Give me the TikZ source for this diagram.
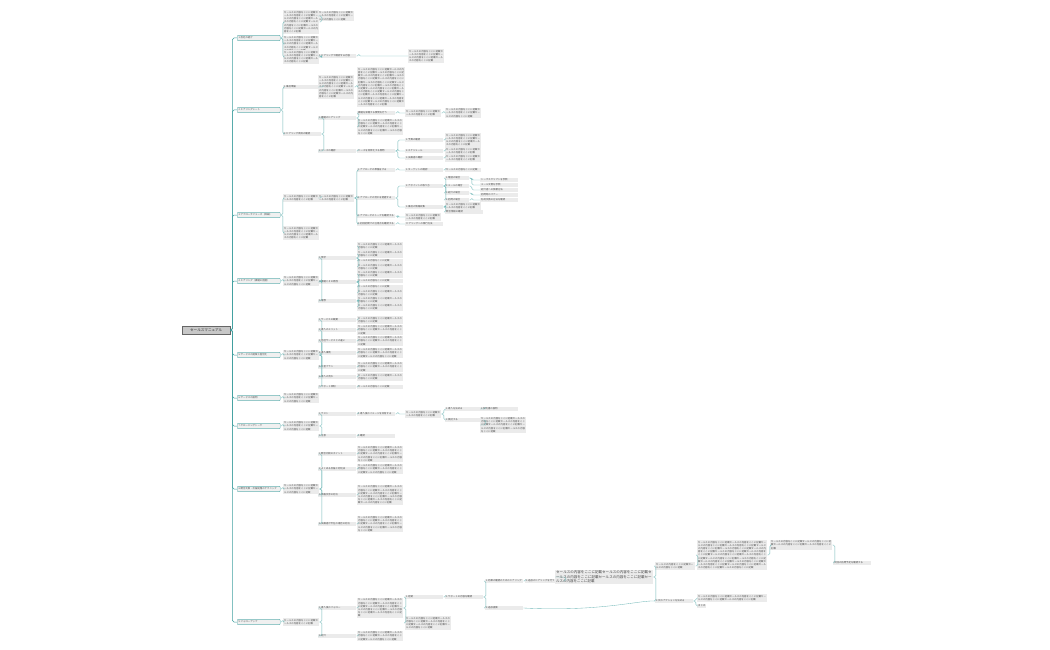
\documentclass[tikz,border=0pt]{standalone}
\usepackage{fontspec}
\setmainfont{Noto Sans CJK JP}
\XeTeXlinebreaklocale "ja"
\XeTeXlinebreakskip=0pt plus 0.5pt
\begin{document}
\newcommand\Tx[1]{\foreach\i in{1,...,#1}{セールスの内容をここに記載}}
\begin{tikzpicture}[x=1pt,y=-1pt,
  box/.style={fill=black!8,inner xsep=1pt,inner ysep=0.8pt,anchor=west,align=left,font=\fontsize{2.4}{3.2}\selectfont,text=black!70},
  l1/.style={box,draw=teal!60,line width=0.4pt,rounded corners=0.8pt,inner sep=1.5pt,fill=black!6,text width=40pt},
  link/.style={draw=teal!55,line width=0.35pt,rounded corners=1.5pt}]
\useasboundingbox (0,0) rectangle (1050,650);
\newcommand\nd[5]{\node[box,text width=#4] (#1) at (#2,#3) {\Tx{#5}};}
\newcommand\nl[4]{\node[box,text width=36pt] (#1) at (#2,#3) {#4};}
\newcommand\cn[2]{\draw[link] (#1.east) -- ++(2.5,0) |- (#2.west);}
% root
\node[box,draw=black!60,fill=black!22,font=\fontsize{3.6}{4}\selectfont,text=black!80,minimum width=48,minimum height=8,inner sep=1.5pt] (r) at (182,330) {セールスマニュアル};
% level 1
\node[l1] (a1) at (237,38) {1.自社の紹介};
\node[l1] (a2) at (237,110) {2.ヒアリングシート};
\node[l1] (a3) at (237,215) {3.アプローチフェーズ（詳細）};
\node[l1] (a4) at (237,281) {4.ヒアリング（課題の把握）};
\node[l1] (a5) at (237,355) {5.サービスの提案と差別化};
\node[l1] (a6) at (237,398) {6.サービスの説明};
\node[l1] (a7) at (237,426) {7.クロージングトーク};
\node[l1] (a8) at (237,489) {8.競合比較・反論処理のテクニック};
\node[l1] (a9) at (237,622) {9.フォローアップ};
\foreach \a in {a1,a2,a3,a4,a5,a6,a7,a8,a9}{\draw[link,draw=teal!75,line width=0.5pt] (r.east) -- ++(2,0) |- (\a.west);}
% a1
\nd{b1}{283}{22}{34pt}{7}
\nd{b2}{283}{44}{34pt}{5}
\nd{b3}{283}{57}{34pt}{4}
\nd{c1}{318}{16}{34pt}{3}
\nl{c2}{318}{56}{1.ヒアリングで確認する内容}
\nd{c3}{408}{56}{34pt}{4}
\cn{a1}{b1}\cn{a1}{b2}\cn{a1}{b3}\cn{b1}{c1}\cn{b3}{c2}\cn{c2}{c3}
% a2
\nl{b4}{283}{87}{1.事前準備}
\nl{b5}{283}{134}{2.ヒアリング項目の確認}
\nd{c4}{318}{87}{34pt}{7}
\nd{c5}{357}{87}{46pt}{17}
\nl{c6}{318}{118}{1.課題のヒアリング}
\nl{c7}{318}{151}{2.ニーズの確認}
\nl{d1}{357}{113}{課題を深堀する質問を行う}
\nd{e1}{405}{113}{34pt}{2}
\nd{f1}{445}{113}{34pt}{3}
\nd{d2}{357}{127}{44pt}{6}
\nl{d3}{357}{151}{ニーズを具体化する質問}
\nl{e2}{405}{140}{1.予算の確認}
\nd{f2}{445}{140}{34pt}{4}
\nl{e3}{405}{151}{2.スケジュール}
\nd{f3}{445}{151}{34pt}{2}
\nl{e4}{405}{158}{3.決裁者の確認}
\nd{f4}{445}{158}{34pt}{2}
\cn{a2}{b4}\cn{a2}{b5}\cn{b4}{c4}\cn{c4}{c5}\cn{b5}{c6}\cn{b5}{c7}\cn{c6}{d1}\cn{d1}{e1}\cn{e1}{f1}\cn{c6}{d2}
\cn{c7}{d3}\cn{d3}{e2}\cn{d3}{e3}\cn{d3}{e4}\cn{e2}{f2}\cn{e3}{f3}\cn{e4}{f4}
% a3
\nd{b6}{283}{198}{34pt}{2}
\nd{b7}{283}{233}{34pt}{4}
\nd{c8}{318}{198}{34pt}{2}
\nl{d4}{357}{170}{1.アプローチの準備をする}
\nl{d5}{357}{198}{2.アプローチの流れを把握する}
\nl{d6}{357}{216}{3.アプローチのトークを確認する}
\nl{d7}{357}{224}{4.初回訪問での注意点を確認する}
\nl{e5}{405}{170}{1.ターゲットの確認}
\nd{f5}{445}{170}{34pt}{1}
\nl{e7}{405}{186}{2.アポイントの取り方}
\node[box,text width=22pt] (f6) at (445,178) {1.電話の場合};
\node[box,text width=22pt] (f7) at (445,186) {2.メールの場合};
\node[box,text width=22pt] (f8) at (445,193) {3.紹介の場合};
\node[box,text width=22pt] (f9) at (445,200) {4.訪問の場合};
\nl{g1}{480}{180}{トークスクリプトを参照}
\nl{g2}{480}{185}{メール文例を参照}
\nl{g3}{480}{190}{紹介者への依頼方法}
\nl{g4}{480}{195}{訪問時のマナー}
\nl{g5}{480}{200}{名刺交換の方法を確認}
\nl{e8}{405}{207}{3.事前の情報収集}
\nd{f10}{445}{206}{34pt}{2}
\nl{f11}{445}{212}{競合情報の確認}
\nd{e9}{405}{217}{34pt}{2}
\nl{e10}{405}{224}{ヒアリングへの移行方法}
\cn{a3}{b6}\cn{a3}{b7}\cn{b6}{c8}\cn{c8}{d4}\cn{c8}{d5}\cn{c8}{d6}\cn{c8}{d7}\cn{d4}{e5}\cn{e5}{f5}
\cn{d5}{e7}\cn{d5}{e8}\cn{e7}{f6}\cn{e7}{f7}\cn{e7}{f8}\cn{e7}{f9}\cn{f6}{g1}\cn{f6}{g2}\cn{f7}{g3}\cn{f8}{g4}\cn{f9}{g5}
\cn{e8}{f10}\cn{e8}{f11}\cn{d6}{e9}\cn{d7}{e10}
% a4
\nd{b8}{283}{281}{34pt}{3}
\nl{c9}{318}{258}{1.現状}
\nl{c10}{318}{282}{2.課題とその原因}
\nl{c11}{318}{301}{3.理想}
\cn{a4}{b8}\cn{b8}{c9}\cn{b8}{c10}\cn{b8}{c11}
\foreach \n/\y/\k in {d8/246/2,d9/254/2,d10/261/1,d11/267/2}{\node[box,text width=44pt] (\n) at (357,\y) {\Tx{\k}}; \cn{c9}{\n}}
\foreach \n/\y/\k in {d12/274/2,d13/281/1,d14/287/1,d15/293/2}{\node[box,text width=44pt] (\n) at (357,\y) {\Tx{\k}}; \cn{c10}{\n}}
\foreach \n/\y/\k in {d16/300/2,d17/307/2}{\node[box,text width=44pt] (\n) at (357,\y) {\Tx{\k}}; \cn{c11}{\n}}
% a5
\nd{b9}{283}{355}{34pt}{3}
\cn{a5}{b9}
\foreach \c/\d/\y/\k/\t in {c12/d18/320/2/1.サービスの概要,c13/d19/330/3/2.導入のメリット,c14/d20/341/3/3.他社サービスとの違い,c15/d21/353/4/4.導入事例,c16/d22/367/3/5.料金プラン,c17/d23/377/2/6.導入の流れ,c18/d24/387/1/7.サポート体制}{\node[box,text width=36pt] (\c) at (318,\y) {\t}; \node[box,text width=44pt] (\d) at (357,\y) {\Tx{\k}}; \cn{b9}{\c}\cn{\c}{\d}}
% a6
\nd{b10}{283}{398}{34pt}{3}
\cn{a6}{b10}
% a7
\nd{b11}{283}{426}{34pt}{3}
\nl{c19}{318}{414}{1.テスト}
\nl{d25}{357}{414}{1.導入後のイメージを共有する}
\nd{e11}{405}{414}{34pt}{2}
\nl{f12}{445}{409}{1.導入を決める}
\nl{g6}{480}{409}{2.契約書の説明}
\nl{f13}{445}{420}{2.検討する}
\nd{g7}{480}{425}{44pt}{6}
\nl{c20}{318}{436}{2.注意}
\nl{d26}{357}{436}{3.確認}
\cn{a7}{b11}\cn{b11}{c19}\cn{b11}{c20}\cn{c19}{d25}\cn{d25}{e11}\cn{e11}{f12}\cn{e11}{f13}\cn{f12}{g6}\cn{f13}{g7}\cn{c20}{d26}
% a8
\nd{b12}{283}{489}{34pt}{3}
\cn{a8}{b12}
\foreach \c/\d/\y/\k/\t in {c21/d27/454/6/1.競合比較のポイント,c22/d28/469/4/2.よくある反論と対処法,c23/d29/495/8/3.価格交渉の対応,c24/d30/524/6/4.決裁者が不在の場合の対応}{\node[box,text width=36pt] (\c) at (318,\y) {\t}; \node[box,text width=44pt] (\d) at (357,\y) {\Tx{\k}}; \cn{b12}{\c}\cn{\c}{\d}}
% a9
\nd{b13}{283}{622}{34pt}{2}
\nl{c25}{318}{608}{1.導入後のフォロー}
\nd{d31}{357}{608}{44pt}{7}
\nl{e12}{405}{597}{1.定期}
\nd{e13}{405}{623}{44pt}{5}
\nl{f14}{445}{597}{1.サポートの内容を確認}
\nl{g8}{485}{581}{1.効果の確認のためのヒアリング}
\nl{g9}{485}{608}{2.追加提案}
\nl{h1}{525}{581}{1.追加のヒアリングを行う}
\node[box,text width=96pt,font=\fontsize{3.5}{4.6}\selectfont,text=black!75] (i1) at (555,577) {\Tx{5}};
\nd{j1}{655}{566}{38pt}{2}
\nl{j2}{655}{601}{2.次のアクションを決める}
\nd{k1}{697}{555}{68pt}{19}
\nd{k2}{697}{598}{68pt}{4}
\node[box] (k3) at (697,606) {まとめ};
\nd{l1}{770}{545}{60pt}{4}
\nl{m1}{833}{563}{次回の訪問予定を確認する}
\nl{c26}{318}{636}{2.紹介}
\nd{d32}{357}{636}{44pt}{4}
\cn{a9}{b13}\cn{b13}{c25}\cn{b13}{c26}\cn{c25}{d31}\cn{d31}{e12}\cn{d31}{e13}\cn{e12}{f14}\cn{f14}{g8}\cn{f14}{g9}\cn{g8}{h1}\cn{h1}{i1}
\cn{i1}{j1}\cn{i1}{j2}\cn{j1}{k1}\cn{j2}{k2}\cn{j2}{k3}\cn{k1}{l1}\cn{l1}{m1}\cn{c26}{d32}
\draw[link] (g9.east) .. controls (600,612) and (640,600) .. (j2.west);
\end{tikzpicture}
\end{document}
